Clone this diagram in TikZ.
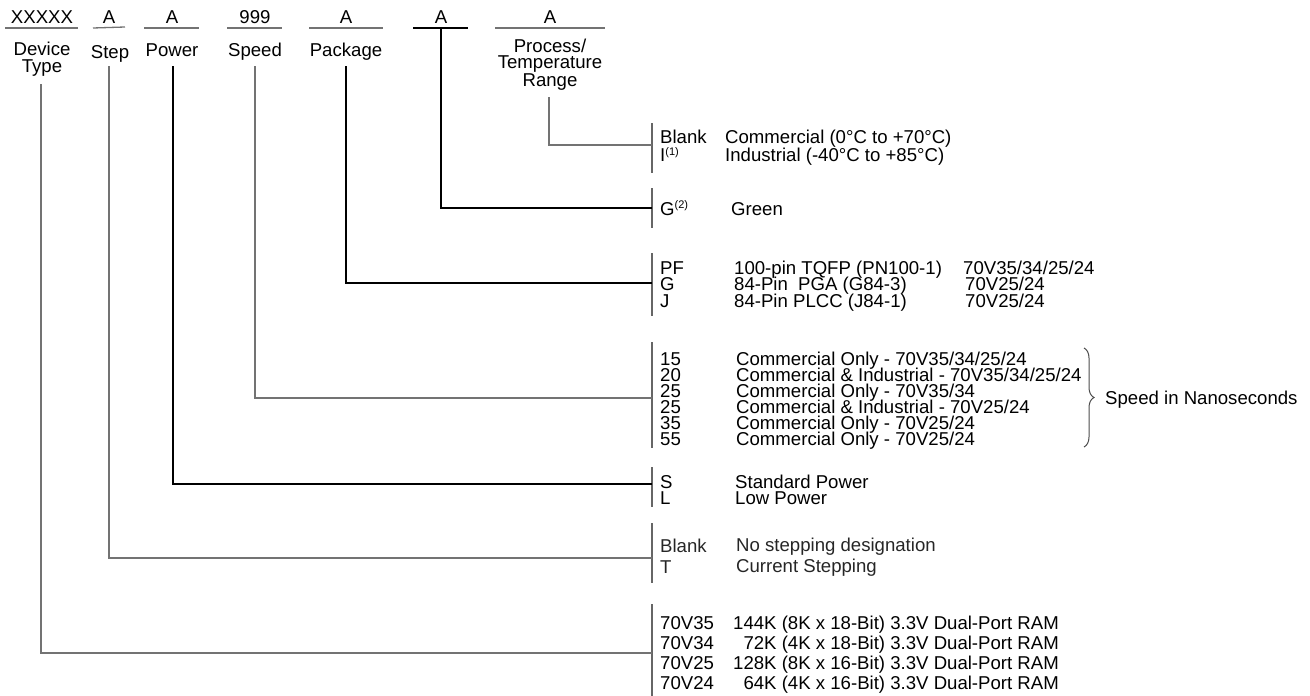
\documentclass[tikz,border=0pt]{standalone}
\usepackage{fontspec}
\setmainfont{Liberation Sans}
\usetikzlibrary{decorations.pathreplacing}
\begin{document}
\begin{tikzpicture}[x=1pt,y=-1pt,
  txt/.style={inner sep=0pt, anchor=base west, font=\fontsize{18.6}{16}\selectfont},
  ctxt/.style={inner sep=0pt, anchor=base, align=center, font=\fontsize{18.6}{15.5}\selectfont},
  gline/.style={draw=black!55, line width=1.3pt},
  bline/.style={draw=black, line width=1.2pt},
  barline/.style={draw=black!60, line width=1.2pt},
]
\useasboundingbox (0,0) rectangle (1310,696);

% ---- top row fields
\node[ctxt] (fDev)  at (42,23.5)  {XXXXX};
\node[ctxt] (fStep) at (109,23.5) {A};
\node[ctxt] (fPow)  at (172,23.5) {A};
\node[ctxt] (fSpd)  at (255,23.5) {999};
\node[ctxt] (fPkg)  at (346,23.5) {A};
\node[ctxt] (fGrn)  at (441,23.5) {A};
\node[ctxt] (fProc) at (550,23.5) {A};
\draw[gline] (5,28) -- (78,28);
\draw[gline] (93,28) -- (125,27);
\draw[gline] (144,28) -- (199,28);
\draw[gline] (227,28) -- (282,28);
\draw[gline] (309,28) -- (383,28);
\draw[bline] (413,28) -- (468,28);
\draw[gline] (495,28) -- (605,28);

% ---- field labels (base = baseline of last line)
\node[ctxt, font=\fontsize{18.6}{16.5}\selectfont] (lDev) at (42,72) {Device\\Type};
\node[ctxt] (lStep) at (110,58) {Step};
\node[ctxt] (lPow)  at (172,56) {Power};
\node[ctxt] (lSpd)  at (255,56) {Speed};
\node[ctxt] (lPkg)  at (346,56) {Package};
\node[ctxt] (lProc) at (550,86) {Process/\\Temperature\\Range};

% ---- connector start points
\coordinate (sDev)  at (41,84);
\coordinate (sStep) at (109,66);
\coordinate (sPow)  at (173,66);
\coordinate (sSpd)  at (255,66);
\coordinate (sPkg)  at (346,66);
\coordinate (sGrn)  at (441,28);
\coordinate (sProc) at (549,97);

% ---- bar junction points
\coordinate (bProc) at (652,145);
\coordinate (bGrn)  at (652,208);
\coordinate (bPkg)  at (652,283);
\coordinate (bSpd)  at (652,398);
\coordinate (bPow)  at (652,484);
\coordinate (bStep) at (652,558);
\coordinate (bDev)  at (652,653);

\draw[barline] (652,123) -- (652,173);
\draw[barline] (652,188) -- (652,228);
\draw[barline] (652,253) -- (652,316);
\draw[barline] (652,342) -- (652,448);
\draw[barline] (652,467) -- (652,507);
\draw[barline] (652,523) -- (652,583);
\draw[barline] (652,604) -- (652,696);

% ---- connectors
\draw[gline] (sProc) |- (bProc);
\draw[bline] (sGrn)  |- (bGrn);
\draw[bline] (sPkg)  |- (bPkg);
\draw[gline] (sSpd)  |- (bSpd);
\draw[bline] (sPow)  |- (bPow);
\draw[gline] (sStep) |- (bStep);
\draw[gline] (sDev)  |- (bDev);

% ---- process / temperature
\node[txt] (pc1) at (660,143.5) {Blank};
\node[txt] (pc2) at (660,161.5) {I\textsuperscript{\fontsize{11}{11}\selectfont(1)}};
\node[txt] (pd1) at (725,143.5) {Commercial (0°C to +70°C)};
\node[txt] (pd2) at (725,161.5) {Industrial (-40°C to +85°C)};

% ---- green
\node[txt] (gc1) at (660,215) {G\textsuperscript{\fontsize{11}{11}\selectfont(2)}};
\node[txt] (gd1) at (731,215) {Green};

% ---- package
\node[txt] (kc1) at (660,274) {PF};
\node[txt] (kc2) at (660,290.5) {G};
\node[txt] (kc3) at (660,307) {J};
\node[txt] (kd1) at (734,274) {100-pin TQFP (PN100-1)};
\node[txt] (kd2) at (734,290.5) {84-Pin\hspace{0.55em}PGA (G84-3)};
\node[txt] (kd3) at (734,307) {84-Pin PLCC (J84-1)};
\node[txt] (ke1) at (963,274) {70V35/34/25/24};
\node[txt] (ke2) at (965,290.5) {70V25/24};
\node[txt] (ke3) at (965,307) {70V25/24};

% ---- speed
\node[txt] (sc1) at (660,365) {15};
\node[txt] (sc2) at (660,381) {20};
\node[txt] (sc3) at (660,397) {25};
\node[txt] (sc4) at (660,413) {25};
\node[txt] (sc5) at (660,429) {35};
\node[txt] (sc6) at (660,445) {55};
\node[txt] (sd1) at (736,365) {Commercial Only - 70V35/34/25/24};
\node[txt] (sd2) at (736,381) {Commercial \& Industrial - 70V35/34/25/24};
\node[txt] (sd3) at (736,397) {Commercial Only - 70V35/34};
\node[txt] (sd4) at (736,413) {Commercial \& Industrial - 70V25/24};
\node[txt] (sd5) at (736,429) {Commercial Only - 70V25/24};
\node[txt] (sd6) at (736,445) {Commercial Only - 70V25/24};
\coordinate (brT) at (1084,348);
\coordinate (brB) at (1084,447);
\draw[draw=black!70, line width=1pt, decorate, decoration={brace, amplitude=10pt}] (brT) -- (brB);
\node[txt] (sns) at (1105,404) {Speed in Nanoseconds};

% ---- power
\node[txt] (wc1) at (660,488) {S};
\node[txt] (wc2) at (660,504) {L};
\node[txt] (wd1) at (735,488) {Standard Power};
\node[txt] (wd2) at (735,504) {Low Power};

% ---- step
\node[txt, text=black!85] (tc1) at (660,552) {Blank};
\node[txt, text=black!85] (tc2) at (660,573) {T};
\node[txt, text=black!85] (td1) at (736,551) {No stepping designation};
\node[txt, text=black!85] (td2) at (736,572) {Current Stepping};

% ---- device
\node[txt] (dc1) at (660,629) {70V35};
\node[txt] (dc2) at (660,649) {70V34};
\node[txt] (dc3) at (660,669) {70V25};
\node[txt] (dc4) at (660,689) {70V24};
\node[txt] (dd1) at (733,629) {144K (8K x 18-Bit) 3.3V Dual-Port RAM};
\node[txt] (dd2) at (733,649) {\phantom{1}72K (4K x 18-Bit) 3.3V Dual-Port RAM};
\node[txt] (dd3) at (733,669) {128K (8K x 16-Bit) 3.3V Dual-Port RAM};
\node[txt] (dd4) at (733,689) {\phantom{1}64K (4K x 16-Bit) 3.3V Dual-Port RAM};
\end{tikzpicture}
\end{document}
